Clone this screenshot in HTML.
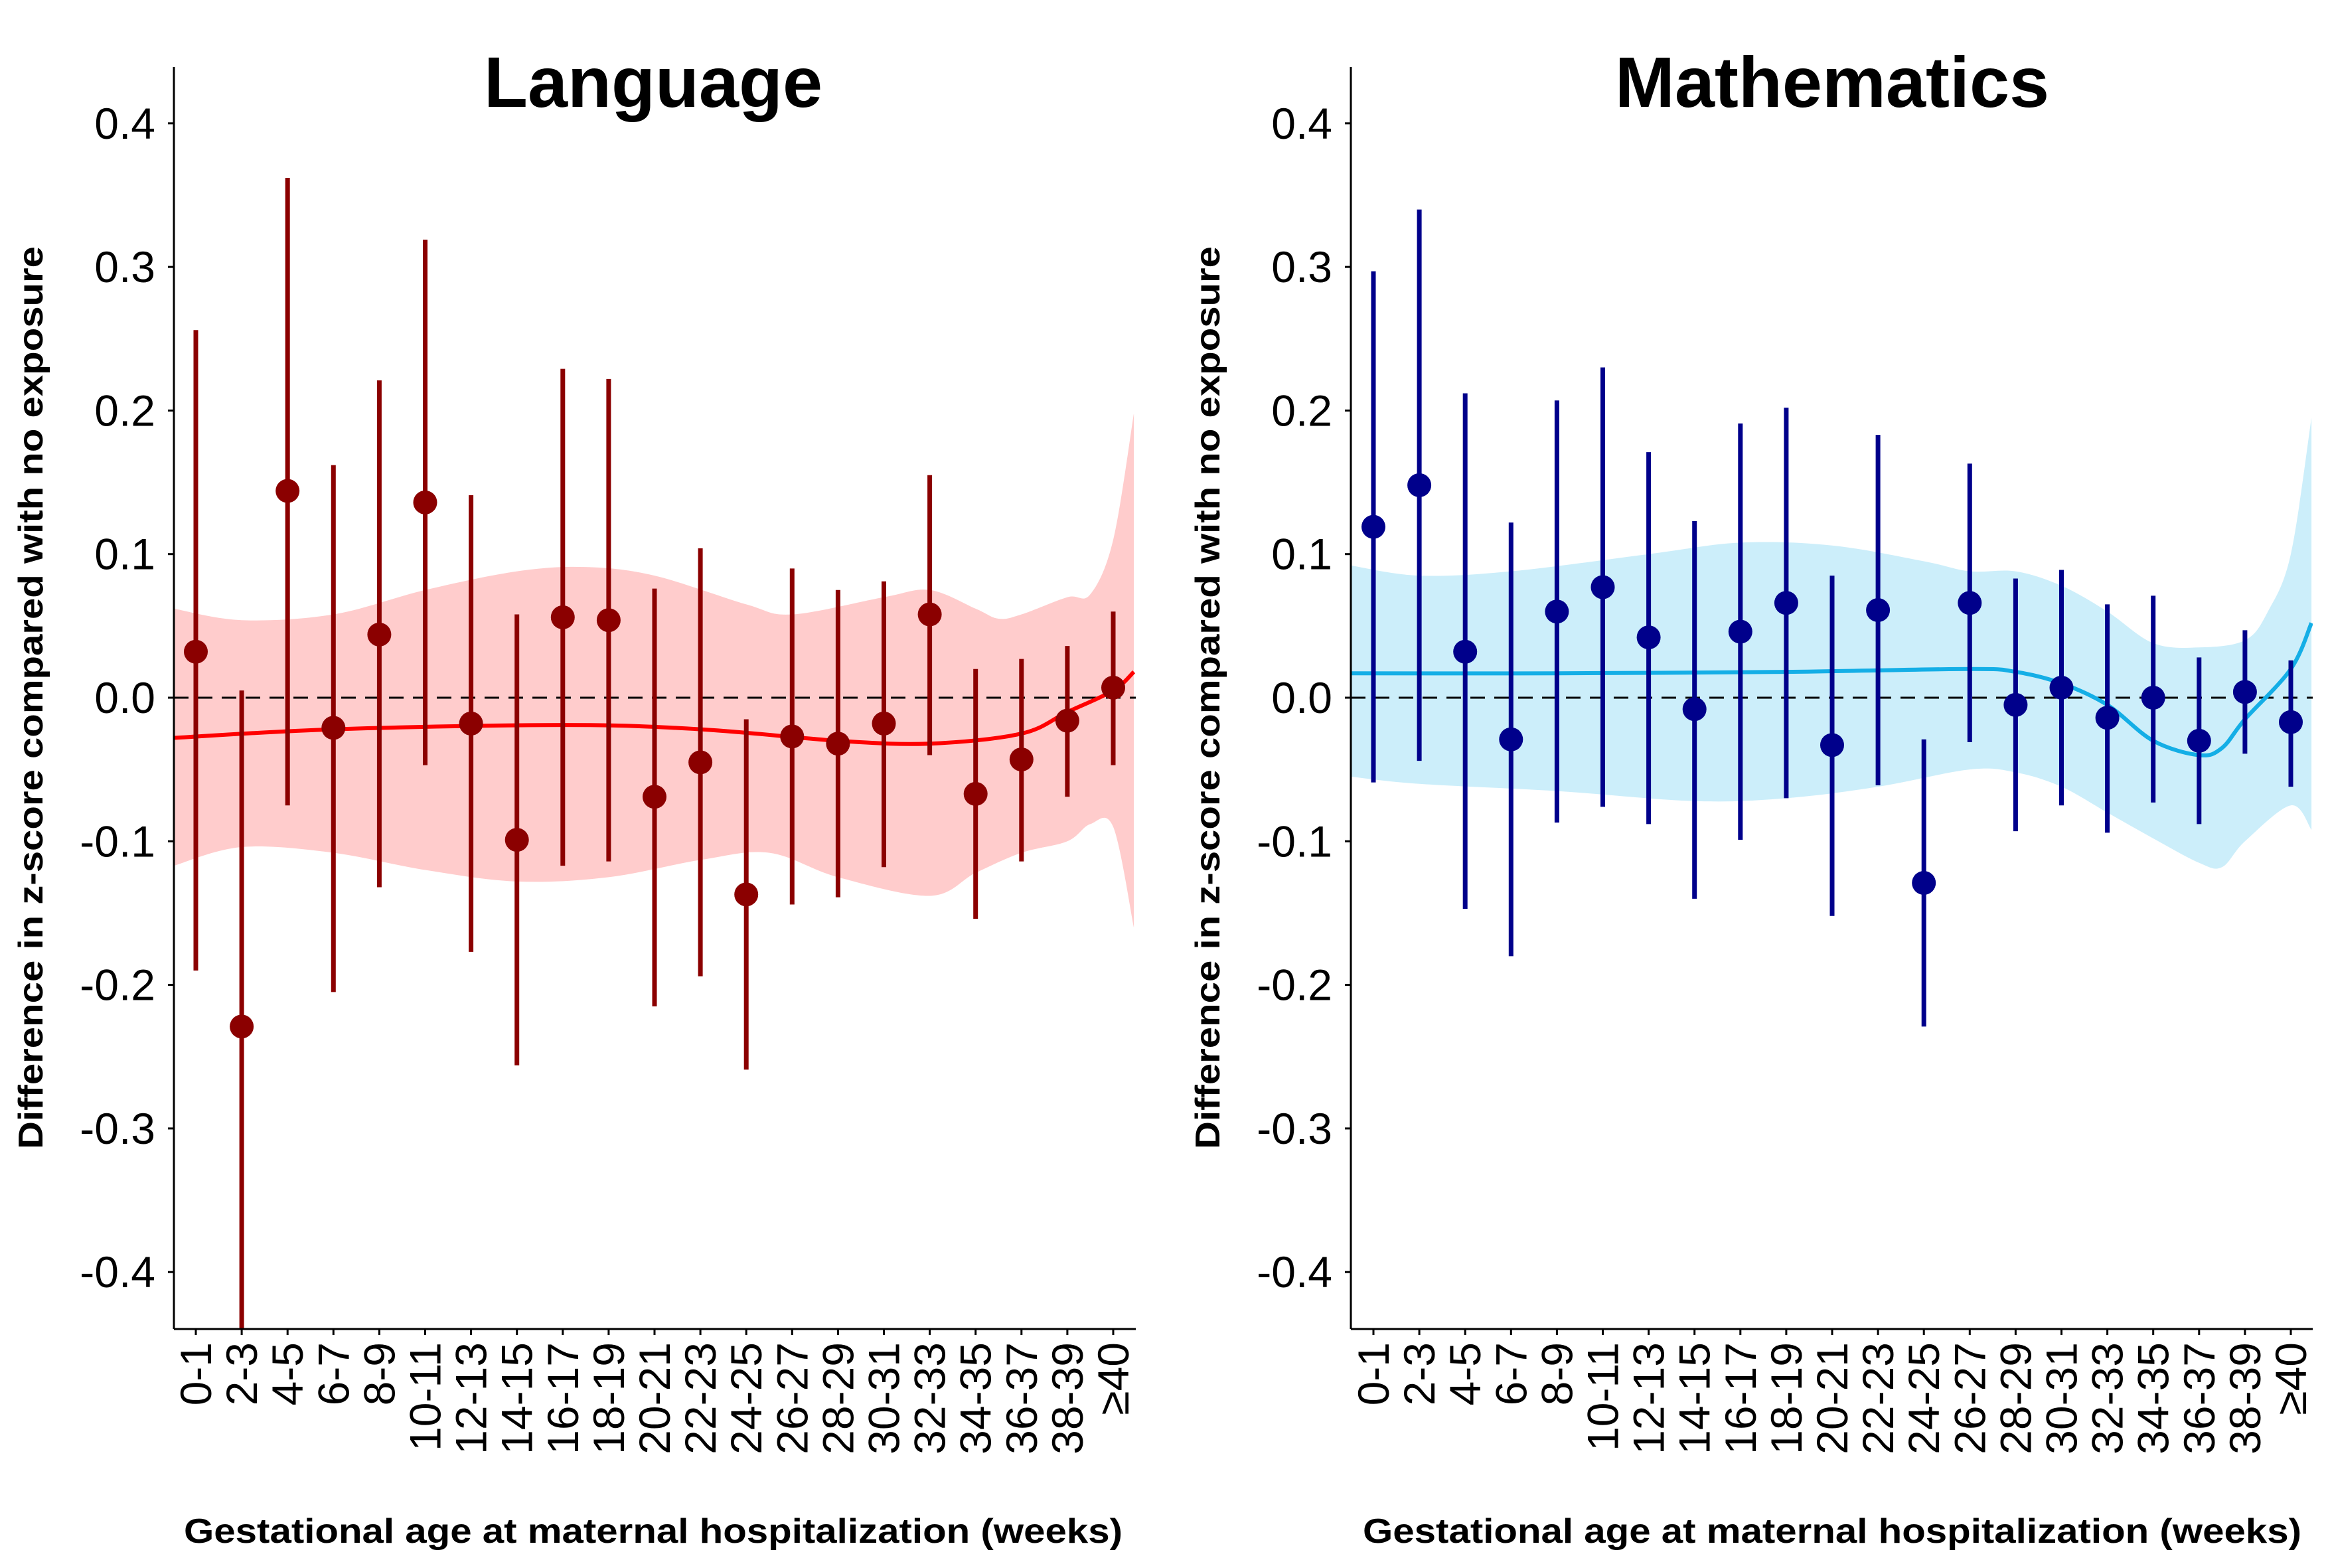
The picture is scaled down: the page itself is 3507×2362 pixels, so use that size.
<!DOCTYPE html>
<html><head><meta charset="utf-8"><style>
html,body{margin:0;padding:0;background:#fff;}
svg{display:block;font-family:"Liberation Sans",Arial,sans-serif;}
</style></head><body>
<svg id="chart" width="3507" height="2362" viewBox="0 0 3507 2362" xmlns="http://www.w3.org/2000/svg"></svg>
<script>
const categories=["0-1","2-3","4-5","6-7","8-9","10-11","12-13","14-15","16-17","18-19","20-21","22-23","24-25","26-27","28-29","30-31","32-33","34-35","36-37","38-39","≥40"];
const yTicks=[0.4,0.3,0.2,0.1,0.0,-0.1,-0.2,-0.3,-0.4];
const yTickLabels=["0.4","0.3","0.2","0.1","0.0","-0.1","-0.2","-0.3","-0.4"];
const langEst=[0.032,-0.229,0.144,-0.021,0.044,0.136,-0.018,-0.099,0.056,0.054,-0.069,-0.045,-0.137,-0.027,-0.032,-0.018,0.058,-0.067,-0.043,-0.016,0.007];
const langLo=[-0.19,-0.46,-0.075,-0.205,-0.132,-0.047,-0.177,-0.256,-0.117,-0.114,-0.215,-0.194,-0.259,-0.144,-0.139,-0.118,-0.040,-0.154,-0.114,-0.069,-0.047];
const langHi=[0.256,0.005,0.362,0.162,0.221,0.319,0.141,0.058,0.229,0.222,0.076,0.104,-0.015,0.090,0.075,0.081,0.155,0.020,0.027,0.036,0.060];
const mathEst=[0.119,0.148,0.032,-0.029,0.060,0.077,0.042,-0.008,0.046,0.066,-0.033,0.061,-0.129,0.066,-0.005,0.007,-0.014,0.000,-0.030,0.004,-0.017];
const mathLo=[-0.059,-0.044,-0.147,-0.180,-0.087,-0.076,-0.088,-0.140,-0.099,-0.070,-0.152,-0.061,-0.229,-0.031,-0.093,-0.075,-0.094,-0.073,-0.088,-0.039,-0.062];
const mathHi=[0.297,0.340,0.212,0.122,0.207,0.230,0.171,0.123,0.191,0.202,0.085,0.183,-0.029,0.163,0.083,0.089,0.065,0.071,0.028,0.047,0.026];
const langLineX=[-0.48,3,8,11,14,16,18,19,20,20.45];
const langLineY=[-0.028,-0.022,-0.019,-0.022,-0.030,-0.032,-0.025,-0.010,0.005,0.018];
const langUpX=[-0.48,1,3,5,7,8.5,10,12,13,15,16,17,17.5,18,19,19.5,20,20.45];
const langUpY=[0.062,0.054,0.058,0.075,0.088,0.091,0.085,0.065,0.058,0.070,0.075,0.062,0.055,0.058,0.070,0.072,0.110,0.198];
const langLowX=[-0.48,1,3,5,7,9,11,12.5,14,16,17,18,19,19.5,20,20.45];
const langLowY=[-0.117,-0.104,-0.108,-0.120,-0.128,-0.125,-0.113,-0.108,-0.125,-0.138,-0.122,-0.108,-0.100,-0.088,-0.090,-0.160];
const mathLineX=[-0.48,4,9,13,14,15,16,17,18,18.5,19,20,20.45];
const mathLineY=[0.017,0.017,0.018,0.020,0.018,0.010,-0.005,-0.030,-0.040,-0.035,-0.015,0.020,0.052];
const mathUpX=[-0.48,1,3,6,8,10,12,13,14,15,16,17,18,19,19.5,20,20.45];
const mathUpY=[0.092,0.085,0.088,0.100,0.108,0.106,0.095,0.088,0.088,0.078,0.060,0.038,0.035,0.040,0.060,0.100,0.195];
const mathLowX=[-0.48,1,4,7,9,11,13,14,15,16,17,18,18.5,19,20,20.45];
const mathLowY=[-0.055,-0.060,-0.065,-0.072,-0.070,-0.062,-0.050,-0.052,-0.062,-0.080,-0.098,-0.115,-0.118,-0.100,-0.075,-0.092];

const NS="http://www.w3.org/2000/svg";
const svg=document.getElementById('chart');
function mk(tag,attrs,parent){const e=document.createElementNS(NS,tag);for(const k in attrs)e.setAttribute(k,attrs[k]);(parent||svg).appendChild(e);return e;}
function smooth(pts){let d="M"+pts[0][0]+","+pts[0][1];for(let i=0;i<pts.length-1;i++){const p0=pts[i-1]||pts[i],p1=pts[i],p2=pts[i+1],p3=pts[i+2]||p2;const c1x=p1[0]+(p2[0]-p0[0])/6,c1y=p1[1]+(p2[1]-p0[1])/6,c2x=p2[0]-(p3[0]-p1[0])/6,c2y=p2[1]-(p3[1]-p1[1])/6;d+=" C"+c1x+","+c1y+" "+c2x+","+c2y+" "+p2[0]+","+p2[1];}return d;}
function smoothCont(pts){return smooth(pts).replace(/^M/," L");}

function panel(o){
  const top=101,bottom=2002,y0=1051,per=2163;
  const ys=v=>y0-v*per;
  const xs=i=>o.c0+i*(o.c1-o.c0)/20;
  const g=mk('g',{});
  
  const cid='clip-'+o.name;
  const defs=mk('defs',{},g);const cp=mk('clipPath',{id:cid},defs);mk('rect',{x:o.ax,y:top,width:o.axR-o.ax,height:bottom-top},cp);
  const plot=mk('g',{'clip-path':'url(#'+cid+')'},g);
  
  const up=o.upX.map((x,i)=>[xs(x),ys(o.upY[i])]);
  const lo=o.lowX.map((x,i)=>[xs(x),ys(o.lowY[i])]).reverse();
  const band=mk('path',{d:smooth(up)+smoothCont(lo)+" Z",fill:o.band},plot);
  
  const zl=mk('line',{x1:o.ax,x2:o.axR,y1:ys(0),y2:ys(0),stroke:'#000','stroke-width':3,'stroke-dasharray':'22,14'},plot);
  
  const ln=mk('path',{d:smooth(o.lineX.map((x,i)=>[xs(x),ys(o.lineY[i])])),fill:'none',stroke:o.line,'stroke-width':6},plot);
  
  categories.forEach((c,i)=>{
    const eb=mk('line',{x1:xs(i),x2:xs(i),y1:ys(o.lo[i]),y2:ys(o.hi[i]),stroke:o.pt,'stroke-width':7},plot);
    
    const pt=mk('circle',{cx:xs(i),cy:ys(o.est[i]),r:18,fill:o.pt},plot);
    
  });
  const ya=mk('line',{x1:o.ax,x2:o.ax,y1:top,y2:bottom,stroke:'#000','stroke-width':3},g);
  
  const xa=mk('line',{x1:o.ax,x2:o.axR,y1:bottom,y2:bottom,stroke:'#000','stroke-width':3},g);
  
  yTicks.forEach((v,i)=>{
    mk('line',{x1:o.ax-9,x2:o.ax,y1:ys(v),y2:ys(v),stroke:'#000','stroke-width':3},g);
    const t=mk('text',{x:o.ax-28,y:ys(v)+23,'text-anchor':'end','font-size':66,fill:'#000'},g);
    t.textContent=yTickLabels[i];
    
  });
  categories.forEach((c,i)=>{
    mk('line',{x1:xs(i),x2:xs(i),y1:bottom,y2:bottom+9,stroke:'#000','stroke-width':3},g);
    const t=mk('text',{x:0,y:0,'text-anchor':'end','font-size':66,fill:'#000',transform:'translate('+(xs(i)+23)+','+(bottom+20)+') rotate(-90)'},g);
    t.textContent=c;
    
  });
  const ti=mk('text',{x:o.tx,y:161,'text-anchor':'middle','font-size':108,'font-weight':'bold',fill:'#000'},g);
  ti.textContent=o.title;
  const yt=mk('text',{x:0,y:0,'text-anchor':'middle','font-size':52,'font-weight':'bold',fill:'#000',textLength:1360,lengthAdjust:'spacingAndGlyphs',transform:'translate('+(o.ytx)+',1051) rotate(-90)'},g);
  yt.textContent='Difference in z-score compared with no exposure';
  
  const xt=mk('text',{x:o.tx,y:2324,'text-anchor':'middle','font-size':52,'font-weight':'bold',fill:'#000',textLength:1414,lengthAdjust:'spacingAndGlyphs'},g);
  xt.textContent='Gestational age at maternal hospitalization (weeks)';
  
}
panel({name:'language',ax:262,axR:1711,c0:295,c1:1677,tx:984,ytx:64,title:'Language',est:langEst,lo:langLo,hi:langHi,lineX:langLineX,lineY:langLineY,upX:langUpX,upY:langUpY,lowX:langLowX,lowY:langLowY,pt:'#8B0000',line:'#FF0000',band:'#FFCCCC'});
panel({name:'mathematics',ax:2035,axR:3484,c0:2069,c1:3451,tx:2760,ytx:1837,title:'Mathematics',est:mathEst,lo:mathLo,hi:mathHi,lineX:mathLineX,lineY:mathLineY,upX:mathUpX,upY:mathUpY,lowX:mathLowX,lowY:mathLowY,pt:'#00008B',line:'#14AEE6',band:'#CCEEFA'});
</script>
</body></html>
